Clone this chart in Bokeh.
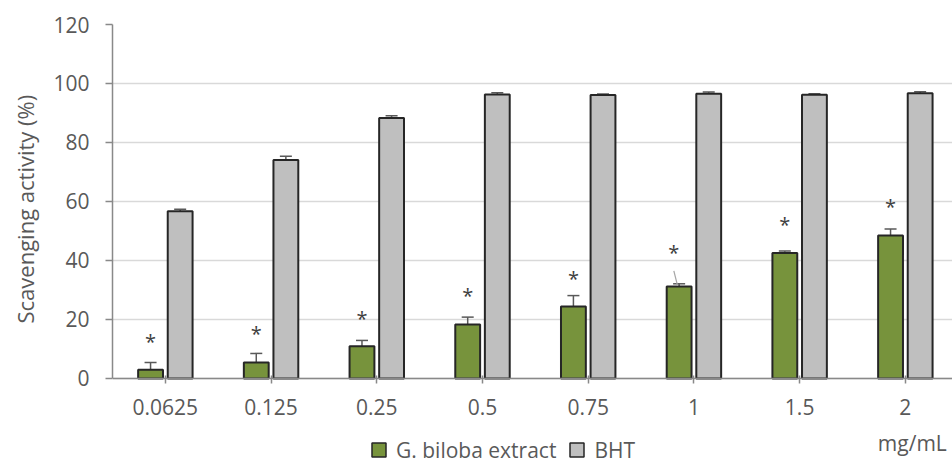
from bokeh.plotting import figure
from bokeh.models import (Range1d, FixedTicker, Whisker, TeeHead, ColumnDataSource,
                          Legend, LegendItem, Label, Title)
from bokeh.embed import file_html
from bokeh.resources import INLINE
from bokeh.core.properties import value

# ---- data ----
categories = ["0.0625", "0.125", "0.25", "0.5", "0.75", "1", "1.5", "2"]
ginkgo = [3.0, 5.4, 10.9, 18.3, 24.4, 31.2, 42.5, 48.5]
ginkgo_sd = [2.4, 3.1, 2.0, 2.5, 3.7, 0.9, 0.7, 2.2]
bht = [56.7, 74.1, 88.3, 96.3, 96.1, 96.5, 96.2, 96.7]
bht_sd = [0.7, 1.2, 0.8, 0.6, 0.3, 0.6, 0.3, 0.5]
star_y = [12.9, 15.6, 20.8, 28.4, 34.3, 43.0, 52.6, 58.6]
star_dx = [0, 0, 0, 0, 0, -0.05, 0, 0]
y_ticks = [0, 20, 40, 60, 80, 100, 120]
series_names = ["G. biloba extract", "BHT"]
y_title = "Scavenging activity (%)"
x_unit = "mg/mL"

FONT = "Open Sans"
TXT = "#595959"
GREEN = "#77933C"
GREY = "#BFBFBF"
EDGE = "#262626"

idx = list(range(len(categories)))
off = 0.14
bw = 0.235
xg = [i - off for i in idx]
xb = [i + off for i in idx]

p = figure(width=952, height=465, output_backend="svg", toolbar_location=None,
           x_range=Range1d(-0.5, 7.446), y_range=Range1d(-29.5, 120),
           min_border_left=105, min_border_right=0, min_border_top=24, min_border_bottom=0)
p.outline_line_color = None
p.background_fill_color = "white"
p.border_fill_color = "white"

p.vbar(x=xg, top=ginkgo, width=bw, fill_color=GREEN, line_color=EDGE, line_width=2)
p.vbar(x=xb, top=bht, width=bw, fill_color=GREY, line_color=EDGE, line_width=2)

for xs, vals, sds in ((xg, ginkgo, ginkgo_sd), (xb, bht, bht_sd)):
    src = ColumnDataSource(dict(x=xs, upper=[v + s for v, s in zip(vals, sds)],
                                lower=[v - s for v, s in zip(vals, sds)]))
    wk = Whisker(source=src, base="x", upper="upper", lower="lower",
                 line_color="#595959", line_width=1.5,
                 upper_head=TeeHead(size=12, line_color="#595959", line_width=1.5),
                 lower_head=TeeHead(size=12, line_color="#595959", line_width=1.5))
    p.add_layout(wk)

sx = [x + d for x, d in zip(xg, star_dx)]
p.text(x=sx, y=star_y, text=["*"] * len(sx), text_font=value(FONT), text_font_size="20px",
       text_color="#404040", text_align="center", text_baseline="middle", y_offset=1)

# leader line for the moved label
moved = [i for i, d in enumerate(star_dx) if d != 0]
p.segment(x0=[sx[i] for i in moved], y0=[star_y[i] - 6.5 for i in moved],
          x1=[xg[i] - 0.015 for i in moved], y1=[ginkgo[i] + 0.3 for i in moved],
          line_color="#A6A6A6", line_width=1.2)

# legend swatches: hidden square markers (only shown in the legend)
lg = p.scatter(x=xg[:1], y=ginkgo[:1], marker="square", size=14, fill_color=GREEN,
               line_color=EDGE, line_width=1.5, visible=False)
lb = p.scatter(x=xb[:1], y=bht[:1], marker="square", size=14, fill_color=GREY,
               line_color=EDGE, line_width=1.5, visible=False)

# axes
p.xaxis.fixed_location = 0
p.xaxis.ticker = FixedTicker(ticks=idx)
p.xaxis.major_label_overrides = {i: c for i, c in zip(idx, categories)}
p.yaxis.ticker = FixedTicker(ticks=y_ticks)
p.yaxis.bounds = (0, 120)
for ax in (p.xaxis, p.yaxis):
    ax.axis_line_color = "#898989"
    ax.axis_line_width = 1.5
    ax.major_tick_line_color = "#898989"
    ax.major_tick_line_width = 1.5
    ax.minor_tick_line_color = None
    ax.major_label_text_font = FONT
    ax.major_label_text_font_size = "21px"
    ax.major_label_text_color = TXT
p.xaxis.major_tick_in = 3
p.xaxis.major_tick_out = 5
p.xaxis.major_label_standoff = 16
p.yaxis.major_tick_in = 0
p.yaxis.major_tick_out = 7
p.yaxis.major_label_standoff = 16

p.xgrid.grid_line_color = None
p.ygrid.grid_line_color = "#D9D9D9"
p.ygrid.grid_line_width = 1.5
p.ygrid.bounds = (0, 120)

# y-axis title, centred on the 0..120 span
p.add_layout(Title(text=y_title, align="left", offset=142, vertical_align="top",
                   standoff=18, text_font=FONT, text_font_size="22px",
                   text_font_style="normal", text_color=TXT), "left")

legend = Legend(items=[LegendItem(label=series_names[0], renderers=[lg]),
                       LegendItem(label=series_names[1], renderers=[lb])],
                location=(249, -2), orientation="horizontal",
                background_fill_alpha=0, border_line_alpha=0, padding=0, margin=0,
                inactive_fill_alpha=0,
                glyph_width=35, glyph_height=35, label_standoff=-7, spacing=3,
                label_text_font=FONT, label_text_font_size="21px", label_text_color=TXT)
p.add_layout(legend)

p.add_layout(Label(x=6.74, y=-22, text=x_unit, text_baseline="middle",
                   text_font=FONT, text_font_size="21px", text_color=TXT))

open("out.html", "w").write(file_html(p, INLINE))
